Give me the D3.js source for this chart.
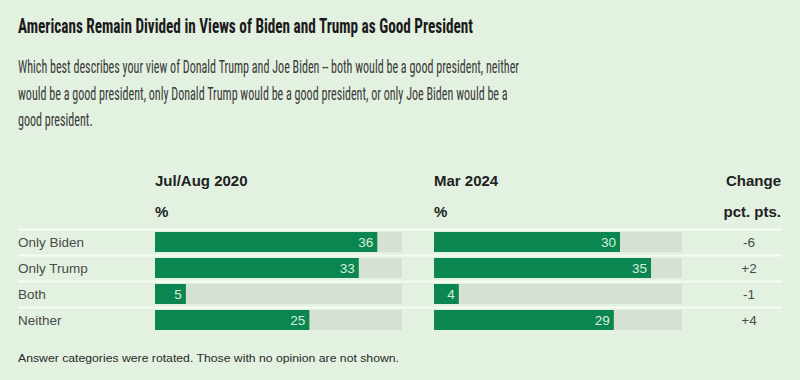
<!DOCTYPE html>
<html><head><meta charset="utf-8">
<script src="https://cdn.jsdelivr.net/npm/d3@7"></script>
<style>
html,body{margin:0;padding:0;background:#e3f1e1;}
svg{display:block;}
</style></head>
<body>
<script>
const title = "Americans Remain Divided in Views of Biden and Trump as Good President";
const subtitleLines = [
  "Which best describes your view of Donald Trump and Joe Biden -- both would be a good president, neither",
  "would be a good president, only Donald Trump would be a good president, or only Joe Biden would be a",
  "good president."
];
const footnote = "Answer categories were rotated. Those with no opinion are not shown.";
const categories = ["Only Biden", "Only Trump", "Both", "Neither"];
const periods = ["Jul/Aug 2020", "Mar 2024"];
const values2020 = [36, 33, 5, 25];
const values2024 = [30, 35, 4, 29];
const changes = ["-6", "+2", "-1", "+4"];
const changeHeader = ["Change", "pct. pts."];
const unitLabel = "%";

const W = 800, H = 380;
const svg = d3.select("body").append("svg").attr("width", W).attr("height", H);
svg.append("rect").attr("width", W).attr("height", H).attr("fill", "#e3f1e1");

const narrow = "'Liberation Sans Narrow','Arial Narrow','Roboto Condensed','Liberation Sans',Arial,sans-serif";
const sans = "'Liberation Sans',Arial,Helvetica,sans-serif";

// Title
svg.append("text").attr("x", 18).attr("y", 33)
  .attr("font-family", narrow).attr("font-weight", "bold").attr("font-size", 20)
  .attr("fill", "#1a1a1a").attr("textLength", 455).attr("lengthAdjust", "spacingAndGlyphs")
  .text(title);

// Subtitle
const subs = svg.selectAll("text.sub").data(subtitleLines).join("text").attr("class", "sub")
  .attr("x", 18).attr("y", (d, i) => 73 + i * 26.5)
  .attr("font-family", narrow).attr("font-size", 17.5).attr("fill", "#3a3a3a").text(d => d);
const w0 = subs.nodes()[0].getComputedTextLength();
const k = 501 / w0;
subs.each(function () {
  const w = this.getComputedTextLength();
  d3.select(this).attr("textLength", w * k).attr("lengthAdjust", "spacingAndGlyphs");
});

// Layout
const rowTop = 232, rowStep = 26, barH = 20;
const y = d3.scaleBand().domain(categories).range([rowTop - 3, rowTop - 3 + rowStep * categories.length]).paddingInner(0);
const x1 = d3.scaleLinear().domain([0, 40]).range([155, 402]);
const x2 = d3.scaleLinear().domain([0, 40]).range([434, 682]);

// Separators
svg.selectAll("line.sep").data(categories).join("line").attr("class", "sep")
  .attr("x1", 18).attr("x2", 782)
  .attr("y1", d => y(d) + 0.5).attr("y2", d => y(d) + 0.5)
  .attr("stroke", "#f6fbf5").attr("stroke-width", 2);

// Headers
const hdr = (xp, yp, txt, anchor) => svg.append("text").attr("x", xp).attr("y", yp)
  .attr("text-anchor", anchor || "start")
  .attr("font-family", sans).attr("font-weight", "bold").attr("font-size", 15)
  .attr("fill", "#222").text(txt);
[[x1, periods[0]], [x2, periods[1]]].forEach(([sc, lbl]) => {
  hdr(sc(0), 186, lbl);
  hdr(sc(0), 217, unitLabel);
});
hdr(781, 186, changeHeader[0], "end");
hdr(781, 217, changeHeader[1], "end");

// Row labels
svg.selectAll("text.cat").data(categories).join("text").attr("class", "cat")
  .attr("x", 18).attr("y", d => y(d) + 3 + barH / 2 + 5)
  .attr("font-family", sans).attr("font-size", 13.5).attr("fill", "#4a4a4a").text(d => d);

// Bars
function drawBars(vals, sc, cls) {
  const g = svg.append("g").attr("class", cls);
  g.selectAll("rect.track").data(categories).join("rect").attr("class", "track")
    .attr("x", sc(0)).attr("y", d => y(d) + 3).attr("height", barH)
    .attr("width", sc(40) - sc(0)).attr("fill", "#d5e1d3");
  g.selectAll("rect.bar").data(vals).join("rect").attr("class", "bar")
    .attr("x", sc(0)).attr("y", (d, i) => y(categories[i]) + 3).attr("height", barH)
    .attr("width", d => sc(d) - sc(0)).attr("fill", "#0b8651");
  g.selectAll("text.val").data(vals).join("text").attr("class", "val")
    .attr("x", d => sc(d) - 4).attr("y", (d, i) => y(categories[i]) + 3 + barH / 2 + 5)
    .attr("text-anchor", "end").attr("font-family", sans).attr("font-size", 13.5)
    .attr("fill", "#d9f0dc").text(d => d);
}
drawBars(values2020, x1, "b2020");
drawBars(values2024, x2, "b2024");

// Change column
svg.selectAll("text.chg").data(changes).join("text").attr("class", "chg")
  .attr("x", 749).attr("y", (d, i) => y(categories[i]) + 3 + barH / 2 + 5)
  .attr("text-anchor", "middle").attr("font-family", sans).attr("font-size", 13.5)
  .attr("fill", "#4a4a4a").text(d => d);

// Footnote
svg.append("text").attr("x", 18).attr("y", 362)
  .attr("font-family", sans).attr("font-size", 11.5).attr("fill", "#2a2a2a")
  .attr("textLength", 381).attr("lengthAdjust", "spacingAndGlyphs").text(footnote);
</script>
</body></html>
